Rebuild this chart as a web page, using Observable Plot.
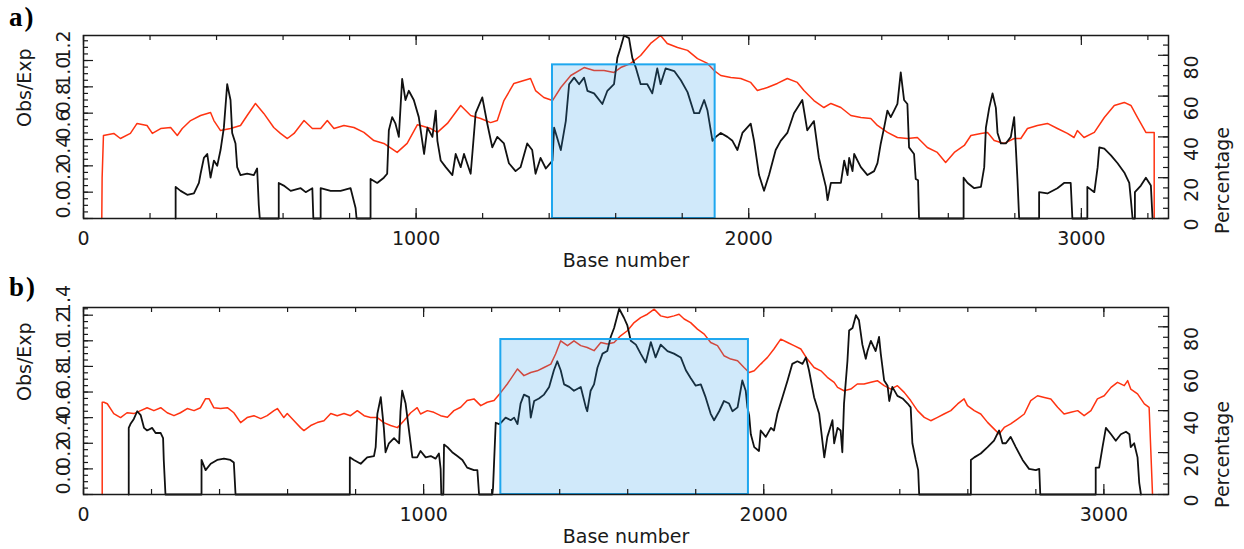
<!DOCTYPE html>
<html><head><meta charset="utf-8">
<script src="https://cdn.jsdelivr.net/npm/d3@7"></script>
<script src="https://cdn.jsdelivr.net/npm/@observablehq/plot@0.6"></script>
<style>
body{margin:0;background:#fff;}
#wrap{position:relative;width:1244px;height:549px;overflow:hidden;background:#fff;}
.pan{position:absolute;left:0;}
.pan svg{display:block;}
.lab{position:absolute;left:9px;font:bold 27px "Liberation Serif","Times New Roman",serif;line-height:1;letter-spacing:2px;color:#000;}
</style>
</head><body>
<div id="wrap">
  <div id="pa" class="pan" style="top:0px"></div>
  <div id="pb" class="pan" style="top:272px"></div>
  <div class="lab" style="top:4px">a)</div>
  <div class="lab" style="top:274px">b)</div>
</div>
<script>
// ---------- Panel a data: [base, value] ----------
const aObsExp = [
[277,0],[277,0.24],[292,0.21],[312,0.18],[332,0.19],[347,0.27],[352,0.34],[362,0.46],[372,0.49],[382,0.31],[392,0.44],[402,0.40],[412,0.52],[422,0.69],[432,1.02],[442,0.90],[447,0.65],[457,0.57],[462,0.39],[472,0.33],[492,0.34],[512,0.33],[522,0.38],[527,0.10],[530,0],
[587,0],[587,0.27],[602,0.25],[623,0.21],[653,0.23],[668,0.20],[688,0.23],[691,0],
[713,0],[713,0.23],[743,0.21],[773,0.21],[803,0.23],[818,0.08],[821,0],
[863,0],[863,0.30],[883,0.27],[903,0.31],[913,0.34],[918,0.67],[928,0.77],[938,0.72],[948,0.62],[958,1.06],[968,0.90],[978,0.97],[993,0.90],[1008,0.77],[1024,0.49],[1034,0.69],[1049,0.62],[1059,0.82],[1064,0.59],[1074,0.44],[1089,0.39],[1109,0.33],[1119,0.49],[1134,0.39],[1144,0.49],[1164,0.34],[1169,0.49],[1179,0.80],[1199,0.92],[1214,0.72],[1229,0.54],[1244,0.62],[1264,0.57],[1279,0.42],[1299,0.36],[1314,0.39],[1334,0.57],[1349,0.52],[1359,0.34],[1374,0.46],[1390,0.38],[1410,0.44],[1415,0.69],[1435,0.52],[1450,0.74],[1460,1.02],[1475,1.07],[1490,1.02],[1505,1.07],[1515,0.97],[1535,0.95],[1560,0.87],[1575,0.97],[1595,1.02],[1605,1.22],[1615,1.30],[1625,1.39],[1640,1.37],[1650,1.22],[1660,1.15],[1675,1.02],[1695,1.02],[1710,0.95],[1725,1.14],[1735,1.02],[1750,1.14],[1776,1.12],[1796,1.05],[1816,0.96],[1836,0.80],[1851,0.80],[1866,0.90],[1876,0.82],[1891,0.59],[1901,0.62],[1916,0.65],[1936,0.62],[1951,0.59],[1966,0.52],[1981,0.65],[2006,0.72],[2016,0.59],[2031,0.33],[2046,0.21],[2061,0.33],[2081,0.52],[2096,0.59],[2116,0.65],[2136,0.80],[2161,0.90],[2176,0.67],[2196,0.74],[2211,0.46],[2232,0.24],[2237,0.14],[2247,0.27],[2277,0.27],[2287,0.44],[2297,0.33],[2302,0.46],[2312,0.36],[2317,0.49],[2337,0.39],[2357,0.33],[2377,0.36],[2387,0.42],[2397,0.57],[2407,0.69],[2417,0.82],[2427,0.77],[2437,0.82],[2447,0.87],[2457,1.11],[2467,0.90],[2477,0.87],[2482,0.54],[2497,0.49],[2502,0.30],[2509,0.29],[2512,0],
[2646,0],[2646,0.31],[2658,0.27],[2678,0.23],[2698,0.24],[2708,0.39],[2713,0.69],[2723,0.84],[2733,0.95],[2743,0.84],[2748,0.65],[2758,0.57],[2773,0.57],[2788,0.62],[2798,0.77],[2803,0.54],[2808,0.29],[2813,0],
[2873,0],[2873,0.20],[2898,0.19],[2928,0.23],[2948,0.27],[2968,0.27],[2973,0],
[3018,0],[3018,0.24],[3039,0.20],[3049,0.39],[3054,0.54],[3069,0.53],[3089,0.48],[3109,0.42],[3129,0.35],[3144,0.27],[3149,0.14],[3154,0],
[3161,0],[3161,0.20],[3179,0.25],[3194,0.31],[3209,0.25],[3214,0]
];
const aGC = [
[55,0],[56,20],[60,40.7],[91,41.7],[111,39.2],[141,41.7],[161,46.6],[191,45.6],[207,41.7],[232,44.1],[262,44.6],[282,40.7],[297,44.1],[322,48],[352,50.5],[382,52],[392,48],[412,43.1],[442,44.1],[472,45.6],[492,50.5],[517,56.4],[542,51.5],[572,44.6],[592,41.7],[613,39.2],[633,41.7],[663,48],[688,44.1],[713,44.1],[733,48],[753,44.1],[783,45.6],[813,44.6],[843,42.2],[873,38.2],[903,36.8],[943,32.4],[973,36.8],[1004,46],[1013,45.6],[1044,44.1],[1064,42.2],[1094,46.6],[1134,55.4],[1164,50.5],[1194,49],[1224,47],[1244,48],[1264,57.8],[1294,66.2],[1324,67.6],[1344,68.6],[1359,62.7],[1384,59.3],[1410,57.8],[1435,64.2],[1465,70.1],[1505,74],[1535,72.5],[1565,72.5],[1595,71.6],[1615,74],[1645,76],[1675,79.9],[1705,85.8],[1735,89.7],[1755,85.8],[1786,83.8],[1816,82.4],[1846,78.4],[1876,76],[1896,72.5],[1916,70.1],[1946,69.1],[1976,68.6],[2006,66.7],[2026,62.7],[2056,64.2],[2086,66.2],[2116,68.6],[2146,66.7],[2166,62.7],[2196,57.8],[2226,54.4],[2247,56.4],[2277,54.4],[2307,50.5],[2337,49.5],[2367,49],[2387,45.6],[2417,42.2],[2447,39.7],[2477,39.2],[2507,39.7],[2537,34.8],[2567,32.4],[2592,27.5],[2618,32.4],[2648,35.8],[2668,40.7],[2698,41.7],[2718,42.2],[2738,38.2],[2768,36.8],[2798,39.2],[2818,39.2],[2838,44.1],[2868,45.6],[2898,46.6],[2928,44.1],[2958,41.7],[2978,39.7],[2988,43.1],[3008,39.7],[3039,42.2],[3069,49.5],[3099,55.4],[3129,56.9],[3149,55.4],[3169,49.5],[3194,42.2],[3219,42.2],[3219,0]
];
const aIsland = [1410, 1899];
const aIslandTop = 1.167;
const aLength = 3262;
const aObsMax = 1.39;
const aPctMax = 89.7;

// ---------- Panel b data ----------
const bObsExp = [
[133,0],[133,0.52],[138,0.55],[148,0.59],[158,0.65],[168,0.62],[178,0.52],[187,0.50],[202,0.52],[212,0.48],[227,0.48],[234,0.44],[236,0.27],[241,0],
[347,0],[347,0.27],[359,0.19],[374,0.24],[393,0.27],[413,0.28],[432,0.27],[442,0.25],[447,0],
[783,0],[783,0.29],[795,0.27],[815,0.24],[834,0.29],[854,0.30],[859,0.37],[864,0.63],[874,0.76],[883,0.52],[888,0.33],[898,0.40],[913,0.44],[928,0.40],[932,0.65],[937,0.81],[947,0.71],[957,0.50],[967,0.29],[981,0.29],[991,0.34],[1006,0.29],[1021,0.30],[1035,0.28],[1045,0.32],[1050,0.20],[1052,0],[1058,0],[1060,0.39],[1070,0.37],[1084,0.33],[1099,0.30],[1114,0.27],[1128,0.21],[1148,0.19],[1158,0.19],[1163,0],
[1202,0],[1204,0.05],[1212,0.56],[1222,0.55],[1227,0.56],[1241,0.60],[1256,0.58],[1266,0.60],[1276,0.55],[1285,0.71],[1295,0.78],[1310,0.76],[1315,0.60],[1325,0.73],[1339,0.75],[1354,0.78],[1369,0.84],[1383,0.97],[1393,1.04],[1403,0.97],[1413,0.86],[1428,0.84],[1442,0.81],[1462,0.84],[1477,0.68],[1481,0.65],[1491,0.81],[1501,0.86],[1511,0.99],[1526,1.10],[1540,1.12],[1550,1.23],[1560,1.30],[1575,1.45],[1589,1.38],[1599,1.32],[1609,1.20],[1624,1.17],[1638,1.10],[1653,1.03],[1668,1.19],[1682,1.07],[1697,1.17],[1717,1.12],[1736,1.10],[1756,1.07],[1771,0.97],[1785,0.91],[1800,0.85],[1815,0.86],[1829,0.76],[1844,0.63],[1854,0.58],[1869,0.65],[1883,0.73],[1898,0.71],[1908,0.65],[1923,0.68],[1937,0.89],[1947,0.81],[1952,0.68],[1957,0.62],[1962,0.47],[1972,0.37],[1986,0.34],[1991,0.50],[2006,0.45],[2021,0.52],[2030,0.50],[2040,0.63],[2055,0.76],[2070,0.89],[2084,1.02],[2099,1.04],[2114,1.02],[2124,1.07],[2133,0.97],[2148,0.76],[2163,0.63],[2178,0.29],[2187,0.45],[2202,0.58],[2207,0.40],[2217,0.52],[2226,0.50],[2231,0.33],[2236,0.71],[2246,1.04],[2251,1.28],[2261,1.30],[2271,1.40],[2280,1.36],[2290,1.17],[2300,1.06],[2305,1.12],[2315,1.20],[2329,1.12],[2339,1.23],[2344,1.10],[2354,0.89],[2364,0.85],[2369,0.73],[2378,0.84],[2393,0.77],[2408,0.75],[2423,0.71],[2432,0.68],[2437,0.40],[2447,0.27],[2454,0.19],[2457,0],
[2609,0],[2609,0.27],[2619,0.29],[2638,0.32],[2658,0.37],[2677,0.42],[2692,0.50],[2702,0.40],[2712,0.40],[2726,0.45],[2741,0.37],[2761,0.27],[2780,0.20],[2800,0.19],[2810,0.20],[2813,0],
[2976,0],[2976,0.21],[2986,0.21],[2996,0.37],[3006,0.52],[3021,0.47],[3035,0.42],[3050,0.47],[3065,0.49],[3075,0.47],[3079,0.37],[3089,0.40],[3099,0.29],[3104,0.09],[3109,0]
];
const bGC = [
[55,0],[55,44],[60,44],[70,43.3],[89,38.6],[109,36.7],[128,39],[148,38.6],[168,40],[187,41.4],[207,40],[227,41.4],[246,39],[266,37.6],[285,39],[305,41],[325,40],[344,41.4],[359,45.7],[369,45.7],[383,41.4],[403,41],[423,41.4],[442,39],[462,34.3],[481,36.7],[501,37.6],[521,36.2],[540,37.6],[560,40],[570,41],[589,36.7],[599,38.6],[619,35.2],[638,31.9],[648,30.5],[668,32.9],[687,34.3],[707,35.2],[727,38.6],[746,37.6],[766,38.6],[785,37.6],[805,40],[825,37.6],[844,36.7],[864,36.7],[883,34.3],[903,32.9],[923,31.9],[942,35.2],[962,39],[981,41.4],[991,38.4],[1011,40],[1030,39.2],[1050,37.6],[1070,36.8],[1089,40],[1109,41.6],[1128,44.8],[1148,45.6],[1168,42.4],[1187,44],[1207,44.8],[1227,48.7],[1246,52.7],[1276,59.9],[1295,56.7],[1315,58.2],[1334,59],[1354,60.6],[1374,62.2],[1388,67],[1403,73.3],[1423,71],[1442,73.3],[1462,71],[1481,70.1],[1501,68.6],[1521,72.5],[1540,71.8],[1560,72.5],[1579,75.7],[1599,78.1],[1619,82],[1638,84.4],[1658,86],[1678,88.4],[1697,85.2],[1717,84.4],[1736,85.2],[1751,86],[1766,83.7],[1785,82],[1805,78.9],[1825,76.5],[1844,72.5],[1864,71],[1883,66.2],[1903,64.6],[1923,63.8],[1942,60.6],[1957,58.2],[1972,59],[1991,62.2],[2011,65.4],[2030,69.4],[2050,74.1],[2070,72.5],[2089,71],[2109,69.4],[2128,64.6],[2148,60.6],[2168,59],[2187,55.9],[2207,53.5],[2217,51.1],[2236,49.5],[2256,50.3],[2275,52.7],[2295,52.7],[2315,53.5],[2334,54.3],[2354,51.9],[2374,50.3],[2393,51.9],[2413,48.7],[2432,44.8],[2452,40],[2472,36.8],[2491,35.2],[2511,36.8],[2530,38.4],[2550,40],[2570,43.2],[2589,45.6],[2599,42.4],[2619,40],[2638,38.4],[2658,34.4],[2677,31.3],[2692,28.9],[2707,32],[2726,33.7],[2746,36],[2766,38.4],[2785,44.8],[2805,47.1],[2825,46.3],[2844,45.6],[2864,41.6],[2883,38.4],[2903,39.2],[2923,40],[2942,37.6],[2962,40],[2981,45.6],[3001,47.1],[3021,51.1],[3040,53.5],[3060,51.9],[3070,54.3],[3079,50.3],[3099,48],[3119,43.2],[3133,41.6],[3138,21],[3143,0]
];
const bIsland = [1227, 1955];
const bIslandTop = 1.21;
const bLength = 3190;
const bObsMax = 1.46;
const bPctMax = 89.2;

// ---------- Tick labels ----------
const xTickLabels = [0, 1000, 2000, 3000];
const aObsTickLabels = [0, 0.2, 0.4, 0.6, 0.8, 1.0, 1.2];
const bObsTickLabels = [0, 0.2, 0.4, 0.6, 0.8, 1.0, 1.2, 1.4];
const pctTickLabels = [0, 20, 40, 60, 80];

function panel({obs, gc, len, obsMax, pctMax, island, islandTop, obsLabels, height, mt, mb}) {
  const W = 1244, ml = 83, mr = 76;
  const innerW = W - ml - mr, innerH = height - mt - mb;
  const k = obsMax / pctMax;
  const obsData = obs.map(([b, v]) => ({b, v}));
  const gcData = gc.map(([b, p]) => ({b, y: p * k}));
  const ink = "#1a1a1a";
  const xMinor = d3.range(0, len + 1, 200);
  const xMajor = d3.range(0, len + 1, 1000);
  const yMinor = d3.range(0, obsMax + 1e-9, 0.05);
  const yMajor = d3.range(0, obsMax + 1e-9, 0.2);
  const pMinor = d3.range(0, pctMax + 1e-9, 5).map(p => p * k);
  const pMajor = d3.range(0, pctMax + 1e-9, 20).map(p => p * k);
  const tk = {stroke: ink, strokeWidth: 1.2};
  const txt = {fill: ink, fontSize: 19};
  return Plot.plot({
    width: W, height, marginTop: mt, marginBottom: mb, marginLeft: ml, marginRight: mr,
    x: {domain: [0, len], axis: null},
    y: {domain: [0, obsMax], axis: null},
    style: {fontFamily: "'DejaVu Sans', sans-serif", fontSize: "19px", background: "#fff", color: ink, overflow: "visible"},
    marks: [
      Plot.line(gcData, {x: "b", y: "y", stroke: "#ff3311", strokeWidth: 1.5}),
      Plot.line(obsData, {x: "b", y: "v", stroke: "#111", strokeWidth: 1.8}),
      Plot.rect([island], {x1: d => d[0], x2: d => d[1], y1: () => 0, y2: () => islandTop,
        fill: "rgb(42,157,234)", fillOpacity: 0.22, stroke: "#1ea7ef", strokeWidth: 2}),
      // inward ticks: bottom, top, left, right
      Plot.tickX(xMinor, {x: d => d, insetTop: innerH - 5, ...tk}),
      Plot.tickX(xMajor, {x: d => d, insetTop: innerH - 10, ...tk}),
      Plot.tickX(xMinor, {x: d => d, insetBottom: innerH - 5, ...tk}),
      Plot.tickX(xMajor, {x: d => d, insetBottom: innerH - 10, ...tk}),
      Plot.tickY(yMinor, {y: d => d, insetRight: innerW - 5, ...tk}),
      Plot.tickY(yMajor, {y: d => d, insetRight: innerW - 10, ...tk}),
      Plot.tickY(pMinor, {y: d => d, insetLeft: innerW - 5, ...tk}),
      Plot.tickY(pMajor, {y: d => d, insetLeft: innerW - 10, ...tk}),
      Plot.frame({stroke: ink, strokeWidth: 1.5}),
      // tick labels
      Plot.text(xTickLabels, {x: d => d, frameAnchor: "bottom", dy: 26, text: d => String(d), ...txt}),
      Plot.text(obsLabels, {y: d => d, frameAnchor: "left", dx: -20, rotate: -90, text: d => d.toFixed(1), ...txt}),
      Plot.text(pctTickLabels, {y: d => d * k, frameAnchor: "right", dx: 23, rotate: -90, text: d => String(d), ...txt}),
      // axis titles
      Plot.text(["Base number"], {frameAnchor: "bottom", dy: 48, text: d => d, ...txt}),
      Plot.text(["Obs/Exp"], {frameAnchor: "left", dx: -59, rotate: -90, text: d => d, ...txt}),
      Plot.text(["Percentage"], {frameAnchor: "right", dx: 54, rotate: -90, text: d => d, ...txt})
    ]
  });
}

document.getElementById("pa").appendChild(panel({
  obs: aObsExp, gc: aGC, len: aLength, obsMax: aObsMax, pctMax: aPctMax,
  island: aIsland, islandTop: aIslandTop, obsLabels: aObsTickLabels,
  height: 272, mt: 35, mb: 54
}));
document.getElementById("pb").appendChild(panel({
  obs: bObsExp, gc: bGC, len: bLength, obsMax: bObsMax, pctMax: bPctMax,
  island: bIsland, islandTop: bIslandTop, obsLabels: bObsTickLabels,
  height: 277, mt: 35, mb: 55
}));
</script>
</body></html>
